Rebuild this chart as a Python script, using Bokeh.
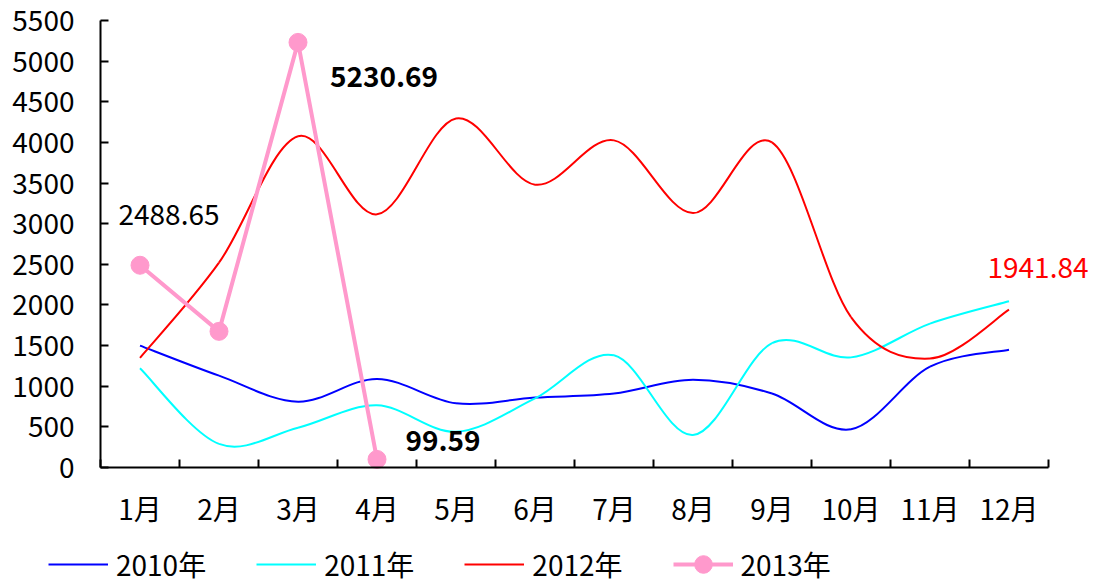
from bokeh.plotting import figure
from bokeh.models import Range1d, FixedTicker, Label, Legend, LegendItem, ColumnDataSource
from bokeh.embed import file_html
from bokeh.resources import INLINE

months = ["1月", "2月", "3月", "4月", "5月", "6月", "7月", "8月", "9月", "10月", "11月", "12月"]
y_ticks = [0, 500, 1000, 1500, 2000, 2500, 3000, 3500, 4000, 4500, 5000, 5500]
s2010 = [1500, 1130, 810, 1090, 790, 860, 910, 1080, 910, 470, 1240, 1450]
s2011 = [1220, 290, 490, 765, 440, 850, 1380, 400, 1530, 1355, 1770, 2045]
s2012 = [1350, 2520, 4075, 3115, 4295, 3480, 4025, 3130, 4000, 1850, 1340, 1941.84]
s2013 = [2488.65, 1675, 5230.69, 99.59]

FONT = "Noto Sans CJK SC"
FS = "28px"

W, H = 1100, 583
LEFT, TOP, BOTTOM = 100, 20, 467      # pixel positions of the plotting area
UNIT = 79.0                           # pixels per month
YMAX = 5500
ppv = (BOTTOM - TOP) / YMAX           # pixels per value unit

xs = [i + 0.5 for i in range(len(months))]

p = figure(width=W, height=H, output_backend="svg", toolbar_location=None,
           x_range=Range1d(-LEFT / UNIT, (W - LEFT) / UNIT),
           y_range=Range1d(-(H - BOTTOM) / ppv, YMAX + TOP / ppv),
           min_border=0)
p.outline_line_color = None
p.xgrid.grid_line_color = None
p.ygrid.grid_line_color = None
p.background_fill_color = "white"
p.border_fill_color = "white"


def smooth_source(vals):
    n = len(vals)
    d = dict(x0=[], y0=[], x1=[], y1=[], cx0=[], cy0=[], cx1=[], cy1=[])
    for i in range(n - 1):
        a = max(i - 1, 0)
        b = min(i + 2, n - 1)
        d["x0"].append(xs[i]); d["y0"].append(vals[i])
        d["x1"].append(xs[i + 1]); d["y1"].append(vals[i + 1])
        d["cx0"].append(xs[i] + (xs[i + 1] - xs[a]) / 6)
        d["cy0"].append(vals[i] + (vals[i + 1] - vals[a]) / 6)
        d["cx1"].append(xs[i + 1] - (xs[b] - xs[i]) / 6)
        d["cy1"].append(vals[i + 1] - (vals[b] - vals[i]) / 6)
    return ColumnDataSource(d)


renderers = []
for vals, color in [(s2010, "#0000FF"), (s2011, "#00FFFF"), (s2012, "#FF0000")]:
    r = p.bezier(x0="x0", y0="y0", x1="x1", y1="y1", cx0="cx0", cy0="cy0",
                 cx1="cx1", cy1="cy1", source=smooth_source(vals),
                 line_color=color, line_width=2)
    renderers.append(r)

pink = "#FF99CC"
src13 = ColumnDataSource(dict(x=xs[:len(s2013)], y=s2013))
l13 = p.line("x", "y", source=src13, line_color=pink, line_width=4)
c13 = p.scatter("x", "y", source=src13, size=18, fill_color=pink, line_color=pink)

# Axes
xa = p.xaxis[0]
xa.fixed_location = 0
xa.bounds = (0, 12)
xa.ticker = FixedTicker(ticks=xs, minor_ticks=list(range(0, 13)))
xa.major_label_overrides = {x: m for x, m in zip(xs, months)}
xa.major_tick_in = 0
xa.major_tick_out = 0
xa.minor_tick_in = 8
xa.minor_tick_out = 0
xa.minor_tick_line_width = 2
xa.minor_tick_line_color = "black"
xa.axis_line_width = 2
xa.axis_line_color = "black"
xa.major_label_standoff = 20
xa.major_label_text_font = FONT
xa.major_label_text_font_size = FS
xa.major_label_text_color = "black"

ya = p.yaxis[0]
ya.fixed_location = 0
ya.bounds = (0, YMAX)
ya.ticker = FixedTicker(ticks=y_ticks)
ya.major_tick_in = 8
ya.major_tick_out = 0
ya.major_tick_line_width = 2
ya.major_tick_line_color = "black"
ya.minor_tick_line_color = None
ya.axis_line_width = 2
ya.axis_line_color = "black"
ya.major_label_standoff = 26
ya.major_label_text_font = FONT
ya.major_label_text_font_size = FS
ya.major_label_text_color = "black"

# Data labels
p.add_layout(Label(x=xs[0], y=s2013[0], text=f"{s2013[0]:.2f}", x_offset=29, y_offset=51,
                   text_align="center", text_baseline="middle", text_font=FONT,
                   text_font_size=FS, text_color="black"))
p.add_layout(Label(x=xs[2], y=s2013[2], text=f"{s2013[2]:.2f}", x_offset=86, y_offset=-34,
                   text_align="center", text_baseline="middle", text_font=FONT,
                   text_font_size=FS, text_font_style="bold", text_color="black"))
p.add_layout(Label(x=xs[3], y=s2013[3], text=f"{s2013[3]:.2f}", x_offset=66, y_offset=19,
                   text_align="center", text_baseline="middle", text_font=FONT,
                   text_font_size=FS, text_font_style="bold", text_color="black"))
p.add_layout(Label(x=xs[11], y=s2012[11], text=f"{s2012[11]:.2f}", x_offset=29, y_offset=42,
                   text_align="center", text_baseline="middle", text_font=FONT,
                   text_font_size=FS, text_color="#FF0000"))

legend = Legend(items=[
    LegendItem(label="2010年", renderers=[renderers[0]]),
    LegendItem(label="2011年", renderers=[renderers[1]]),
    LegendItem(label="2012年", renderers=[renderers[2]]),
    LegendItem(label="2013年", renderers=[l13, c13]),
], orientation="horizontal", location=(48, -3))
legend.glyph_width = 60
legend.glyph_height = 44
legend.label_standoff = 8
legend.spacing = 50
legend.padding = 0
legend.margin = 0
legend.border_line_alpha = 0
legend.background_fill_alpha = 0
legend.label_text_font = FONT
legend.label_text_font_size = FS
legend.label_text_color = "black"
p.add_layout(legend, "center")

open("out.html", "w").write(file_html(p, INLINE))
